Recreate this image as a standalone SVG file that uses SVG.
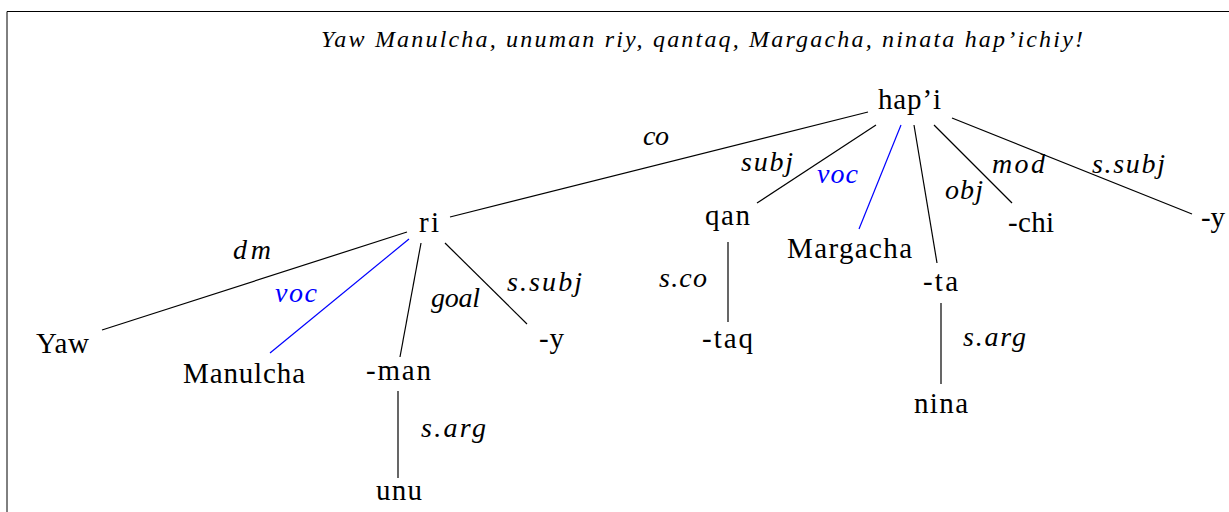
<svg xmlns="http://www.w3.org/2000/svg" width="1229" height="512" viewBox="0 0 1229 512">
<style>
.n{font-family:"Liberation Serif",serif;font-size:29px;fill:#000;text-anchor:middle}
.l{font-family:"Liberation Serif",serif;font-style:italic;font-size:28px;fill:#000;text-anchor:middle}
.b{fill:#0000ff}
.e{stroke:#000;stroke-width:1.2;fill:none}
.v{stroke:#0000ff}
.t{font-family:"Liberation Serif",serif;font-style:italic;font-size:24px;fill:#000}
</style>
<rect width="1229" height="512" fill="#fff"/>
<path d="M7,512 V11.5 H1229" stroke="#000" stroke-width="1" fill="none"/>
<text class="t" x="321" y="47" textLength="762">Yaw Manulcha, unuman riy, qantaq, Margacha, ninata hap’ichiy!</text>
<g id="connectors">
<line class="e" x1="868" y1="112" x2="450" y2="217"/>
<line class="e" x1="876" y1="125" x2="757" y2="203"/>
<line class="e v" x1="901" y1="125" x2="859" y2="229"/>
<line class="e" x1="914" y1="125" x2="937" y2="263"/>
<line class="e" x1="934" y1="125" x2="1012" y2="203"/>
<line class="e" x1="952" y1="118" x2="1192" y2="214"/>
<line class="e" x1="407" y1="232" x2="102" y2="330"/>
<line class="e v" x1="409" y1="239" x2="270" y2="353"/>
<line class="e" x1="421" y1="243" x2="400" y2="357"/>
<line class="e" x1="445" y1="243" x2="527" y2="324"/>
<line class="e" x1="398" y1="391" x2="398" y2="478"/>
<line class="e" x1="728" y1="242" x2="728" y2="322"/>
<line class="e" x1="941" y1="303" x2="941" y2="384"/>
<text class="l" x="656" y="145" textLength="26">co</text>
<text class="l" x="767" y="171" textLength="52">subj</text>
<text class="l b" x="837.5" y="183" textLength="41">voc</text>
<text class="l" x="1018.5" y="173" textLength="53">mod</text>
<text class="l" x="1128.5" y="173" textLength="73">s.subj</text>
<text class="l" x="964" y="199" textLength="38">obj</text>
<text class="l" x="252" y="259" textLength="38">dm</text>
<text class="l b" x="296" y="302" textLength="42">voc</text>
<text class="l" x="455.5" y="307" textLength="49">goal</text>
<text class="l" x="544.5" y="291" textLength="75">s.subj</text>
<text class="l" x="683" y="287" textLength="48">s.co</text>
<text class="l" x="994.5" y="346" textLength="63">s.arg</text>
<text class="l" x="453.5" y="437" textLength="65">s.arg</text>
</g>
<g id="n-hapi"><text class="n" x="909.5" y="109" textLength="63">hap’i</text></g>
<g id="n-ri"><text class="n" x="429" y="232" textLength="20">ri</text></g>
<g id="n-qan"><text class="n" x="727.5" y="225" textLength="45">qan</text></g>
<g id="n-margacha"><text class="n" x="849.5" y="258" textLength="125">Margacha</text></g>
<g id="n-ta"><text class="n" x="940.5" y="291" textLength="35">-ta</text></g>
<g id="n-chi"><text class="n" x="1031" y="232" textLength="46">-chi</text></g>
<g id="n-y2"><text class="n" x="1213" y="227" textLength="24">-y</text></g>
<g id="n-yaw"><text class="n" x="62.5" y="353" textLength="53">Yaw</text></g>
<g id="n-manulcha"><text class="n" x="244" y="383" textLength="122">Manulcha</text></g>
<g id="n-man"><text class="n" x="398.5" y="380" textLength="65">-man</text></g>
<g id="n-y1"><text class="n" x="551.5" y="348" textLength="25">-y</text></g>
<g id="n-unu"><text class="n" x="399" y="500" textLength="46">unu</text></g>
<g id="n-taq"><text class="n" x="727.5" y="348" textLength="51">-taq</text></g>
<g id="n-nina"><text class="n" x="941" y="413" textLength="54">nina</text></g>
</svg>
